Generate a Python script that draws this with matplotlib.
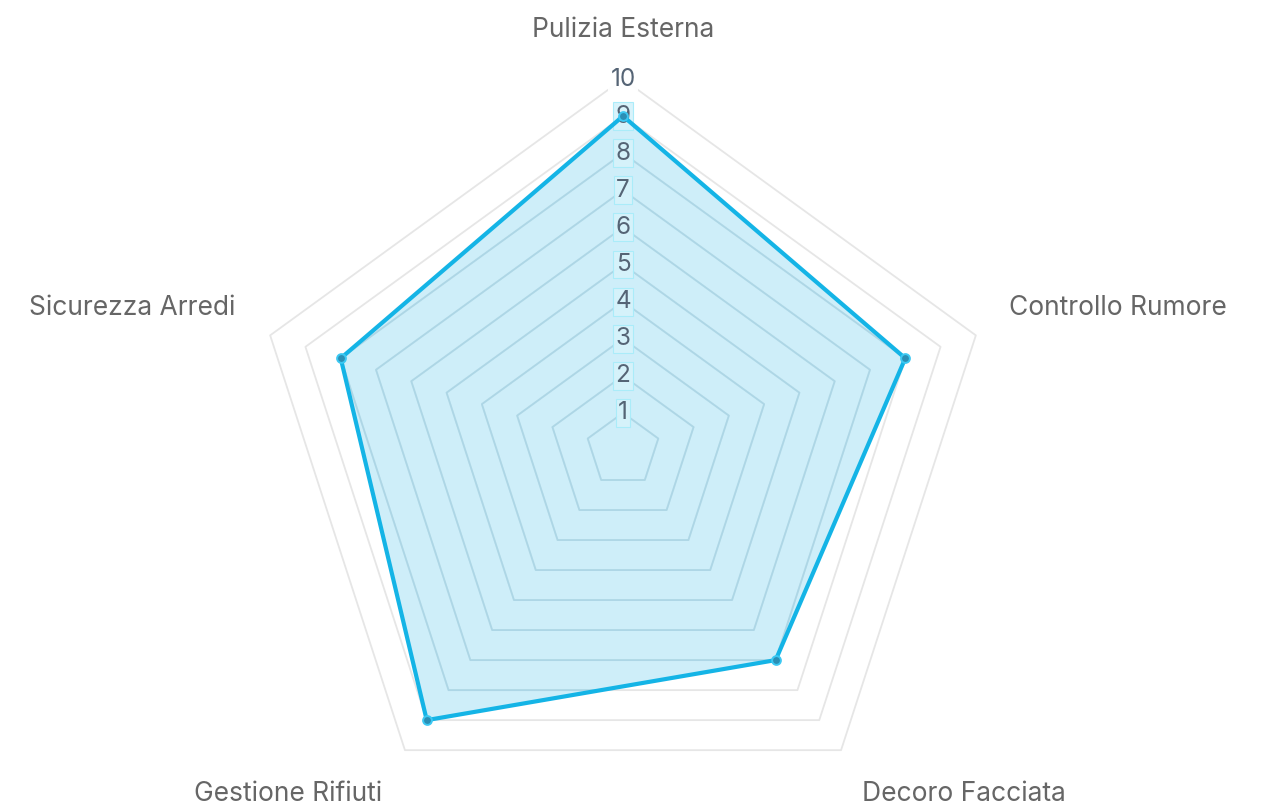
import numpy as np
import matplotlib
matplotlib.use("Agg")
import matplotlib.pyplot as plt

categories = ["Pulizia Esterna", "Controllo Rumore", "Decoro Facciata",
              "Gestione Rifiuti", "Sicurezza Arredi"]
values = [9, 8, 7, 9, 8]
ticks = [1, 2, 3, 4, 5, 6, 7, 8, 9, 10]
rmax = 10

W, H = 1268, 810
dpi = 100
unit = 37.1          # pixels per value unit
cx, cy = 623, 450    # centre in pixels (from top-left)

plt.rcParams['font.family'] = ['Inter', 'DejaVu Sans']
fig = plt.figure(figsize=(W / dpi, H / dpi), dpi=dpi)
ax = fig.add_axes([0, 0, 1, 1])
ax.set_xlim(-cx / unit, (W - cx) / unit)
ax.set_ylim(-(H - cy) / unit, cy / unit)
ax.axis('off')

n = len(categories)
ang = np.deg2rad(90 - 360 / n * np.arange(n))
ca, sa = np.cos(ang), np.sin(ang)

# grid rings
for t in ticks:
    xs = np.append(t * ca, t * ca[0])
    ys = np.append(t * sa, t * sa[0])
    ax.plot(xs, ys, color='#e6e6e6', lw=1.3, zorder=1)
    ax.plot(xs, ys, color='#9fd3e6', lw=1.3, alpha=0.45, zorder=2.5)

# data polygon
v = np.array(values, dtype=float)
xs = np.append(v * ca, v[0] * ca[0])
ys = np.append(v * sa, v[0] * sa[0])
poly = ax.fill(xs, ys, color='#1ab2e6', alpha=0.21, lw=0, zorder=2)[0]
# clip inner (bluish) ring lines to the data polygon
for ln in ax.lines:
    if ln.get_zorder() == 2.5:
        ln.set_clip_path(poly)
ax.plot(xs, ys, color='#14b4e6', lw=3.0, zorder=4, solid_joinstyle='miter')
ax.scatter(v * ca, v * sa, s=40, color='#2a8fb5', edgecolors='#3cc8f2',
           linewidths=1.4, zorder=5)

# tick labels with backdrop
for t in ticks:
    inside = t < 10
    ax.text(0, t, str(t), ha='center', va='center', fontsize=17.5,
            color='#556475', zorder=3,
            bbox=dict(boxstyle='square,pad=0.1',
                      fc='#d6f3fb' if inside else 'white',
                      ec='#a8ecfa' if inside else 'none', lw=0.8,
                      alpha=0.95))

# category labels
offsets = [(0, 49, 'center'), (33, 27, 'left'), (21, -44, 'left'),
           (-23, -44, 'right'), (-35, 27, 'right')]
for i, name in enumerate(categories):
    dx, dy, ha = offsets[i]
    ax.annotate(name, (rmax * ca[i], rmax * sa[i]), xytext=(dx, dy),
                textcoords='offset pixels', ha=ha, va='center',
                fontsize=19, color='#666666')

fig.savefig('out.png', dpi=dpi)
